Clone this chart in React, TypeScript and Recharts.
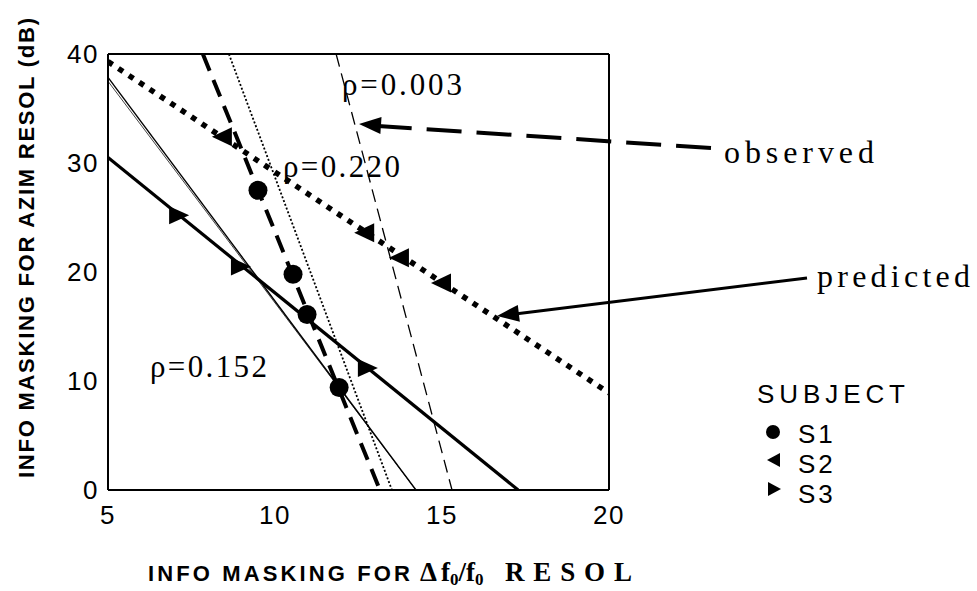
import React from 'react';
import { ComposedChart, Line, Scatter, XAxis, YAxis } from 'recharts';

// axis ticks
const xTicks = [5, 10, 15, 20];
const yTicks = [0, 10, 20, 30, 40];

// fitted / predicted lines (end points)
const s1Observed = [{ x: 7.84, y: 40 }, { x: 13.14, y: 0 }];
const s1Predicted = [{ x: 8.62, y: 40 }, { x: 13.5, y: 0 }];
const s2Observed = [{ x: 5, y: 39.3 }, { x: 20, y: 8.9 }];
const s2Predicted = [{ x: 11.83, y: 40 }, { x: 15.3, y: 0 }];
const s3Observed = [{ x: 5, y: 30.5 }, { x: 17.28, y: 0 }];
const s3Predicted = [{ x: 5, y: 37.85 }, { x: 14.22, y: 0 }];
const s3PredictedEdge = [{ x: 5, y: 37.5 }, { x: 14.22, y: 0 }];

// subject data points
const s1Points = [
    { x: 9.49, y: 27.5 },
    { x: 10.54, y: 19.8 },
    { x: 10.96, y: 16.1 },
    { x: 11.92, y: 9.4 },
];
const s2Points = [
    { x: 8.44, y: 32.4 },
    { x: 12.7, y: 23.6 },
    { x: 13.74, y: 21.3 },
    { x: 15.0, y: 19.0 },
];
const s3Points = [
    { x: 7.1, y: 25.2 },
    { x: 8.95, y: 20.5 },
    { x: 12.75, y: 11.2 },
];

const SANS = '"Liberation Sans", Arial, sans-serif';
const SERIF = '"Liberation Serif", "Times New Roman", serif';

const Dot = (props: any) => <circle cx={props.cx} cy={props.cy} r={9.5} fill="#000" />;

const LeftTri = (props: any) => {
    const { cx, cy } = props;
    return <polygon points={`${cx - 11},${cy} ${cx + 9},${cy - 9.5} ${cx + 9},${cy + 9.5}`} fill="#000" />;
};

const RightTri = (props: any) => {
    const { cx, cy } = props;
    return <polygon points={`${cx + 11},${cy} ${cx - 9},${cy - 9} ${cx - 9},${cy + 9}`} fill="#000" />;
};

// arrow head polygon pointing at (tx, ty) coming from (fx, fy)
function arrowHead(fx: number, fy: number, tx: number, ty: number, len: number, half: number) {
    const dx = tx - fx;
    const dy = ty - fy;
    const d = Math.sqrt(dx * dx + dy * dy);
    const ux = dx / d;
    const uy = dy / d;
    const bx = tx - ux * len;
    const by = ty - uy * len;
    return `${tx},${ty} ${bx - uy * half},${by + ux * half} ${bx + uy * half},${by - ux * half}`;
}

const Overlay = () => (
    <svg
        width={977}
        height={591}
        style={{ position: 'absolute', left: 0, top: 0, pointerEvents: 'none' }}
    >
        {/* axis titles */}
        <text
            transform="translate(34,248) rotate(-90)"
            textAnchor="middle"
            fontFamily={SANS}
            fontWeight="bold"
            fontSize={22}
            textLength={460}
            lengthAdjust="spacing"
        >
            INFO MASKING FOR AZIM RESOL (dB)
        </text>
        <text x={148} y={581} fontFamily={SANS} fontWeight="bold" fontSize={22} textLength={262} lengthAdjust="spacing">
            INFO MASKING FOR
        </text>
        <text x={420} y={581} fontFamily={SERIF} fontWeight="bold" fontSize={27}>
            <tspan>Δ</tspan>
            <tspan dx={4}>f</tspan>
            <tspan fontSize={17} dy={4}>0</tspan>
            <tspan dy={-4}>/f</tspan>
            <tspan fontSize={17} dy={4}>0</tspan>
        </text>
        <text x={505} y={581} fontFamily={SERIF} fontWeight="bold" fontSize={27} textLength={127} lengthAdjust="spacing">
            RESOL
        </text>

        {/* rho annotations */}
        <text x={342} y={95} fontFamily={SERIF} fontSize={31} textLength={120} lengthAdjust="spacing">ρ=0.003</text>
        <text x={283} y={177} fontFamily={SERIF} fontSize={31} textLength={117} lengthAdjust="spacing">ρ=0.220</text>
        <text x={150} y={377} fontFamily={SERIF} fontSize={31} textLength={117} lengthAdjust="spacing">ρ=0.152</text>

        {/* observed arrow */}
        <line x1={711} y1={148} x2={378} y2={126} stroke="#000" strokeWidth={4} strokeDasharray="35 15" />
        <polygon points={arrowHead(711, 148, 359, 124, 22, 8.5)} fill="#000" />
        <text x={724} y={163} fontFamily={SERIF} fontSize={32} textLength={150} lengthAdjust="spacing">observed</text>

        {/* predicted arrow */}
        <line x1={807} y1={278} x2={515} y2={314} stroke="#000" strokeWidth={3} />
        <polygon points={arrowHead(807, 278, 497, 316, 22, 8.5)} fill="#000" />
        <text x={817} y={287} fontFamily={SERIF} fontSize={32} textLength={153} lengthAdjust="spacing">predicted</text>

        {/* legend */}
        <text x={757} y={403} fontFamily={SANS} fontSize={26} textLength={148} lengthAdjust="spacing">SUBJECT</text>
        <circle cx={773} cy={432} r={7} fill="#000" />
        <text x={798} y={443} fontFamily={SANS} fontSize={26} letterSpacing={3}>S1</text>
        <polygon points="767,460 780,453 780,467" fill="#000" />
        <text x={798} y={473} fontFamily={SANS} fontSize={26} letterSpacing={3}>S2</text>
        <polygon points="781,489 768,482 768,496" fill="#000" />
        <text x={798} y={503} fontFamily={SANS} fontSize={26} letterSpacing={3}>S3</text>
    </svg>
);

const tickStyle = { fontSize: 26, fill: '#000', fontFamily: SANS, letterSpacing: 1.5 };

export default function App() {
    return (
        <div style={{ position: 'absolute', left: 0, top: 0, width: 977, height: 591, background: '#fff' }}>
            <ComposedChart width={977} height={591} margin={{ top: 54, right: 368, left: 48, bottom: 61 }}>
                <XAxis
                    xAxisId="x"
                    type="number"
                    dataKey="x"
                    domain={[5, 20]}
                    ticks={xTicks}
                    allowDataOverflow
                    height={40}
                    tickLine={false}
                    tickSize={0}
                    tickMargin={16}
                    axisLine={{ stroke: '#000', strokeWidth: 2 }}
                    tick={tickStyle}
                />
                <XAxis
                    xAxisId="xin"
                    type="number"
                    dataKey="x"
                    domain={[5, 20]}
                    ticks={xTicks}
                    allowDataOverflow
                    mirror
                    tick={false}
                    tickSize={10}
                    axisLine={false}
                    tickLine={{ stroke: '#000', strokeWidth: 1.5 }}
                />
                <XAxis
                    xAxisId="xtop"
                    orientation="top"
                    type="number"
                    dataKey="x"
                    domain={[5, 20]}
                    ticks={xTicks}
                    allowDataOverflow
                    mirror
                    tick={false}
                    tickSize={10}
                    axisLine={{ stroke: '#000', strokeWidth: 2 }}
                    tickLine={{ stroke: '#000', strokeWidth: 1.5 }}
                />
                <YAxis
                    yAxisId="y"
                    type="number"
                    dataKey="y"
                    domain={[0, 40]}
                    ticks={yTicks}
                    allowDataOverflow
                    width={60}
                    tickLine={false}
                    tickSize={0}
                    tickMargin={9}
                    axisLine={{ stroke: '#000', strokeWidth: 2 }}
                    tick={tickStyle}
                />
                <YAxis
                    yAxisId="yin"
                    type="number"
                    domain={[0, 40]}
                    ticks={yTicks}
                    allowDataOverflow
                    mirror
                    tick={false}
                    tickSize={10}
                    axisLine={false}
                    tickLine={{ stroke: '#000', strokeWidth: 1.5 }}
                />
                <YAxis
                    yAxisId="yright"
                    orientation="right"
                    type="number"
                    domain={[0, 40]}
                    ticks={yTicks}
                    allowDataOverflow
                    mirror
                    tick={false}
                    tickSize={10}
                    axisLine={{ stroke: '#000', strokeWidth: 2 }}
                    tickLine={{ stroke: '#000', strokeWidth: 1.5 }}
                />

                <Line xAxisId="x" yAxisId="y" data={s3PredictedEdge} dataKey="y" stroke="#444" strokeWidth={1} dot={false} isAnimationActive={false} />
                <Line xAxisId="x" yAxisId="y" data={s3Predicted} dataKey="y" stroke="#000" strokeWidth={1.4} dot={false} isAnimationActive={false} />
                <Line xAxisId="x" yAxisId="y" data={s3Observed} dataKey="y" stroke="#000" strokeWidth={3.2} dot={false} isAnimationActive={false} />
                <Line xAxisId="x" yAxisId="y" data={s1Predicted} dataKey="y" stroke="#000" strokeWidth={1.8} strokeDasharray="2 2" dot={false} isAnimationActive={false} />
                <Line xAxisId="x" yAxisId="y" data={s1Observed} dataKey="y" stroke="#000" strokeWidth={4} strokeDasharray="18 10" dot={false} isAnimationActive={false} />
                <Line xAxisId="x" yAxisId="y" data={s2Predicted} dataKey="y" stroke="#000" strokeWidth={1.3} strokeDasharray="13 7" dot={false} isAnimationActive={false} />
                <Line xAxisId="x" yAxisId="y" data={s2Observed} dataKey="y" stroke="#000" strokeWidth={5.5} strokeDasharray="5.5 7" dot={false} isAnimationActive={false} />

                <Scatter xAxisId="x" yAxisId="y" data={s1Points} dataKey="y" shape={Dot} isAnimationActive={false} />
                <Scatter xAxisId="x" yAxisId="y" data={s2Points} dataKey="y" shape={LeftTri} isAnimationActive={false} />
                <Scatter xAxisId="x" yAxisId="y" data={s3Points} dataKey="y" shape={RightTri} isAnimationActive={false} />
            </ComposedChart>
            <Overlay />
        </div>
    );
}
